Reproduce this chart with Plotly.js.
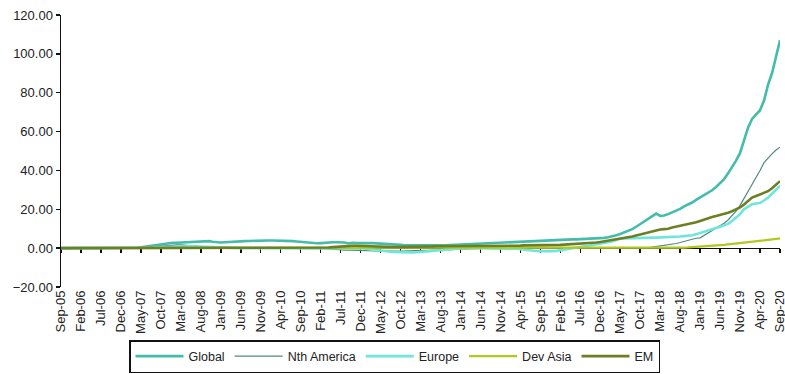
<!DOCTYPE html>
<html>
<head>
<meta charset="utf-8">
<script src="https://cdn.plot.ly/plotly-3.0.1.min.js"></script>
<style>html,body{margin:0;padding:0;background:#fff;}#chart{width:785px;height:374px;}</style>
</head>
<body>
<div id="chart"></div>
<script>
// Monthly categories Sep-05 .. Sep-20
const MONTHS = ['Jan','Feb','Mar','Apr','May','Jun','Jul','Aug','Sep','Oct','Nov','Dec'];
const startYear = 2005, startMonth = 8, nMonths = 181;
const categories = [];
for (let i = 0; i < nMonths; i++) {
  const m = (startMonth + i) % 12;
  const y = startYear + Math.floor((startMonth + i) / 12);
  categories.push(MONTHS[m] + '-' + String(y % 100).padStart(2, '0'));
}
const tickLabels = categories.filter((c, i) => i % 5 === 0);

// Series values (one row per year: Sep..Aug), final value Sep-20
const globalVals = [
  0,0,0,0,0,0,0,0,0,0,0,0,
  0,0,0,0,0,0,0,0.2,0.5,0.8,1.1,1.4,
  1.7,2.0,2.3,2.6,2.8,2.8,2.9,2.9,3.0,3.2,3.5,3.6,
  3.7,3.6,3.3,3.0,2.9,3.0,3.2,3.4,3.5,3.6,3.6,3.7,
  3.8,3.9,3.9,3.9,3.9,3.9,3.9,3.8,3.8,3.7,3.6,3.4,
  3.2,3.0,2.7,2.5,2.5,2.6,2.8,3.0,3.0,3.0,3.0,2.9,
  2.4,2.8,2.6,2.5,2.5,2.6,2.6,2.5,2.4,2.4,2.3,2.1,
  1.9,1.7,1.5,1.4,1.3,1.3,1.4,1.5,1.4,1.3,1.3,1.4,
  1.5,1.6,1.6,1.7,1.8,2.0,2.1,2.2,2.3,2.4,2.5,2.6,
  2.6,2.7,2.7,2.8,2.9,3.0,3.0,3.1,3.3,3.5,3.7,3.8,
  3.8,3.9,4.0,4.1,4.2,4.3,4.4,4.4,4.5,4.5,4.6,4.6,
  4.7,4.8,5.0,5.2,5.3,5.6,6.0,6.6,7.3,8.0,8.9,9.8,
  11.0,12.3,13.5,15.0,16.5,17.8,16.6,16.8,17.5,18.3,19.2,20.2,
  21.5,22.3,23.5,24.8,26.0,27.2,28.4,29.8,31.5,33.4,35.5,38.5,
  41.5,45.0,49.0,55.0,62.0,66.5,68.5,71.0,76.0,84.0,90.0,98.0,
  107.0
];
const nthAmericaVals = [
  0,0,0,0,0,0,0,0,0,0,0,0,
  0,0,0,0,0,0,0,0,0.1,0.3,0.5,0.7,
  0.9,1.1,1.3,1.5,1.6,1.7,1.7,1.6,1.5,1.3,1.0,0.7,
  0.4,0.2,0,0,0,0,0,0,0,0,0,0,
  0,0,0,0,0,0,0,0,0,0,0,0,
  0,0,0,0,0,0,-0.2,-0.4,-0.6,-0.8,-0.9,-1.0,
  -1.0,-1.1,-1.1,-1.2,-1.3,-1.3,-1.3,-1.4,-1.4,-1.5,-1.5,-1.5,
  -1.5,-1.5,-1.4,-1.4,-1.3,-1.3,-1.3,-1.2,-1.2,-1.1,-1.0,-0.9,
  -0.8,-0.7,-0.6,-0.5,-0.4,-0.3,-0.2,-0.1,0,0,0,0,
  0,0,0,0,0,0.1,0.1,0.1,0.1,0.1,0.1,0.1,
  0,0,0,0,0,0,0,0,0,0,0,0,
  0,0,0,0,0,0,0,0,0,0,0,0,
  0,0,0.1,0.3,0.5,0.8,1.0,1.3,1.6,2.0,2.4,2.9,
  3.5,4.2,4.6,5.1,5.3,6.5,8.0,9.0,10.2,11.5,12.8,14.5,
  16.5,19.0,22.0,25.5,29.0,32.5,36.0,40.0,44.0,46.5,48.5,50.5,
  52.0
];
const europeVals = [
  0,0,0,0,0,0,0,0,0,0,0,0,
  0,0,0,0,0,0,0,0,0,0.1,0.2,0.3,
  0.4,0.5,0.6,0.7,0.8,0.9,1.0,1.0,1.0,0.9,0.8,0.7,
  0.6,0.5,0.4,0.3,0.2,0.1,0,0,0,0,0,0,
  0,0,0,0,0,0,0,0,0,0,0,0,
  0,0,0,0,0,0,0,0,0,0,0,0,
  0,0,0,0,-0.2,-0.5,-0.8,-1.0,-1.2,-1.5,-1.7,-1.9,
  -2.0,-2.1,-2.2,-2.2,-2.2,-2.1,-2.0,-1.8,-1.6,-1.4,-1.2,-1.0,
  -0.8,-0.6,-0.4,-0.2,0,0,0,0,0,0,0,0,
  0,0,0,0,0,0,-0.3,-0.6,-0.9,-1.2,-1.4,-1.5,
  -1.6,-1.7,-1.7,-1.6,-1.4,-1.0,-0.6,-0.2,0.2,0.5,0.8,1.0,
  1.2,1.5,1.8,2.2,2.6,3.0,3.5,4.3,4.8,5.0,5.1,5.2,
  5.3,5.3,5.4,5.4,5.4,5.4,5.5,5.5,5.4,5.6,5.8,6.0,
  6.2,6.3,6.6,7.2,7.8,8.3,8.9,9.5,10.2,11.0,11.8,12.5,
  14.0,15.8,17.5,20.0,21.5,22.6,23.0,23.2,24.5,26.0,28.0,30.0,
  32.0
];
const devAsiaVals = [
  0,0,0,0,0,0,0,0,0,0,0,0,
  0,0,0,0,0,0,0,0,0,0,0,0,
  0,0,0,0,0,0,0,0,0,0,0,0,
  0,0,0,0,0,0,0,0,0,0,0,0,
  0,0,0,0,0,0,0,0,0,0,0,0,
  0,0,0,0,0,0,0,0,0,0,0,0,
  0,0,0,0,0,0,0,0,0,0,0,0,
  0,0,0,0,0,0,0,0,0,0,0,0,
  0,0,0,0,0,0,0,0,0,0,0,0,
  0,0,0,0,0,0,0,0,0,0,0,0,
  0,0,0,0,0,0,0,0,0,0,0,0,
  0,0,0,0,0,0,0,0,0,0,0,0,
  0,0,0,0,0.1,0.1,0.2,0.2,0.2,0.3,0.3,0.3,
  0.3,0.4,0.5,0.7,0.9,1.1,1.3,1.4,1.5,1.6,1.7,1.9,
  2.1,2.3,2.5,2.7,2.9,3.1,3.4,3.7,4.0,4.3,4.6,4.8,
  5.0
];
const emVals = [
  0,0,0,0,0,0,0,0,0,0,0,0,
  0,0,0,0,0,0,0,0,0,0,0,0,
  0,0,0,0,0,0,0,0,0,0,0,0,
  0,0,0,0,0,0,0,0,0,0,0,0,
  0,0,0,0,0,0,0,0,0,0,0,0,
  0,0,0,0,0,0,0.1,0.3,0.5,0.7,0.9,1.0,
  1.1,1.2,1.2,1.1,1.0,0.9,0.8,0.7,0.7,0.6,0.6,0.6,
  0.6,0.6,0.7,0.7,0.8,0.8,0.8,0.9,0.9,0.9,1.0,1.0,
  1.0,1.1,1.1,1.2,1.2,1.2,1.2,1.2,1.2,1.2,1.2,1.2,
  1.2,1.2,1.2,1.3,1.3,1.3,1.3,1.3,1.4,1.4,1.4,1.4,
  1.4,1.4,1.5,1.5,1.6,1.7,1.8,1.9,2.0,2.1,2.2,2.3,
  2.5,2.7,2.9,3.2,3.5,3.8,4.1,4.4,4.8,5.1,5.5,6.0,
  6.5,7.0,7.7,8.2,8.8,9.3,9.6,9.8,10.0,10.6,11.0,11.5,
  11.8,12.2,12.7,13.3,14.0,14.8,15.5,16.0,16.5,17.0,17.5,18.2,
  19.0,19.8,21.0,22.5,24.5,26.0,26.8,27.5,28.3,29.3,30.8,32.6,
  34.5
];

const seriesNames = ['Global','Nth America','Europe','Dev Asia','EM'];
const seriesVals = [globalVals, nthAmericaVals, europeVals, devAsiaVals, emVals];
const seriesColors = ['#45bcab','#4f8a80','#6fe6dc','#b2c81e','#6d7f22'];
const seriesWidths = [2.6, 1.2, 2.6, 2.2, 2.6];

const traces = seriesNames.map((name, k) => ({
  type: 'scatter', mode: 'lines', name: name,
  x: categories, y: seriesVals[k],
  line: {color: seriesColors[k], width: seriesWidths[k]},
  xaxis: 'x', yaxis: 'y'
}));
// helper trace for the axis line drawn at y = 0
traces.unshift({
  type: 'scatter', mode: 'lines', x: categories, y: categories.map(() => null),
  xaxis: 'x2', yaxis: 'y', showlegend: false, hoverinfo: 'skip'
});

const font = {family: 'Liberation Sans, Arial, sans-serif', size: 13, color: '#222'};

const layout = {
  width: 785, height: 374,
  margin: {l: 61, r: 5, t: 15, b: 87, autoexpand: false},
  paper_bgcolor: '#fff', plot_bgcolor: '#fff',
  font: font,
  showlegend: true,
  xaxis: {
    type: 'category', range: [0, 180], automargin: false,
    tickmode: 'array', tickvals: tickLabels, ticktext: tickLabels,
    tickangle: -90, ticks: '', showline: false, showgrid: false, zeroline: false,
    tickfont: {family: font.family, size: 13, color: '#222'}
  },
  xaxis2: {
    type: 'category', matches: 'x', overlaying: 'x', anchor: 'free', position: 20/140,
    tickmode: 'array', tickvals: tickLabels, showticklabels: false,
    ticks: 'outside', ticklen: 4, tickwidth: 1.5, tickcolor: '#111',
    showline: true, linecolor: '#111', linewidth: 1.2,
    showgrid: false, zeroline: false, layer: 'below traces'
  },
  yaxis: {
    range: [-20, 120], dtick: 20, tick0: 0, tickformat: '.2f', automargin: false,
    showline: true, linecolor: '#111', linewidth: 1.5,
    ticks: 'outside', ticklen: 4, tickwidth: 1.5, tickcolor: '#111',
    showgrid: false, zeroline: false,
    tickfont: {family: font.family, size: 13, color: '#222'}
  },
  legend: {
    orientation: 'h', xref: 'container', yref: 'container',
    x: 129/785, y: 1 - 340/374, xanchor: 'left', yanchor: 'top',
    bordercolor: '#111', borderwidth: 1.5, bgcolor: '#fff',
    itemwidth: 48,
    font: {family: font.family, size: 12.5, color: '#222'},
    traceorder: 'normal'
  }
};

Plotly.newPlot('chart', traces, layout, {displayModeBar: false, staticPlot: true});
</script>
</body>
</html>
